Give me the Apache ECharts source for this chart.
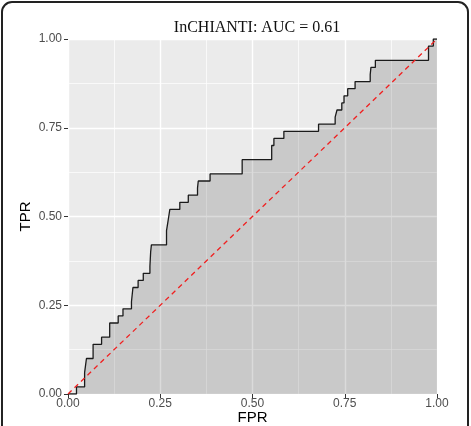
<!DOCTYPE html>
<html>
<head>
<meta charset="utf-8">
<script src="https://cdn.jsdelivr.net/npm/echarts@6/dist/echarts.min.js"></script>
<style>
  html, body { margin: 0; padding: 0; background: #fff; }
  #chart { width: 471px; height: 426px; }
</style>
</head>
<body>
<div id="chart"></div>
<script>
// ROC corners (step: horizontal first, then up)
const fpr = [0, 0.023, 0.045, 0.050, 0.068, 0.091, 0.113, 0.136, 0.149, 0.172, 0.176, 0.190,
  0.204, 0.222, 0.223, 0.224, 0.226, 0.267, 0.270, 0.273, 0.276, 0.303, 0.326, 0.351, 0.353,
  0.385, 0.472, 0.552, 0.558, 0.585, 0.679, 0.724, 0.729, 0.742, 0.748, 0.758, 0.778, 0.819,
  0.821, 0.833, 0.977, 0.990, 1.0]
const tpr = [0, 0.02, 0.06, 0.10, 0.14, 0.16, 0.20, 0.22, 0.24, 0.26, 0.30, 0.32,
  0.34, 0.36, 0.38, 0.40, 0.42, 0.46, 0.48, 0.50, 0.52, 0.54, 0.56, 0.58, 0.60,
  0.62, 0.66, 0.70, 0.72, 0.74, 0.76, 0.78, 0.80, 0.82, 0.84, 0.86, 0.88, 0.90,
  0.92, 0.94, 0.98, 1.0, 1.0]
const diagX = [0, 1]
const diagY = [0, 1]
const ticks = [0, 0.25, 0.5, 0.75, 1]

const chart = echarts.init(document.getElementById('chart'))

const axisCommon = {
  type: 'value',
  min: 0,
  max: 1,
  interval: 0.25,
  nameLocation: 'middle',
  nameMoveOverlap: false,
  nameTextStyle: { color: '#000', fontSize: 15, fontFamily: 'Liberation Sans' },
  axisLine: { show: false },
  axisTick: { show: true, length: 4, lineStyle: { color: '#333', width: 1 } },
  axisLabel: {
    color: '#4d4d4d',
    fontSize: 12,
    fontFamily: 'Liberation Sans',
    formatter: (v) => (ticks.includes(v) ? v.toFixed(2) : ''),
  },
  splitLine: { show: true, lineStyle: { color: '#fff', width: 1.4 } },
  minorTick: { show: false, splitNumber: 2 },
  minorSplitLine: { show: true, lineStyle: { color: '#fff', width: 0.7 } },
}

chart.setOption({
  animation: false,
  title: {
    text: 'InCHIANTI: AUC = 0.61',
    left: 252,
    textAlign: 'center',
    top: 15,
    textStyle: { fontFamily: 'Liberation Serif', fontSize: 16, fontWeight: 'normal', color: '#111' },
  },
  grid: {
    left: 68,
    right: 34,
    top: 39,
    bottom: 32,
    outerBoundsMode: 'none',
    show: true,
    backgroundColor: '#EBEBEB',
    borderWidth: 0,
  },
  xAxis: { ...axisCommon, name: 'FPR', nameGap: 16, axisLabel: { ...axisCommon.axisLabel, margin: 4 } },
  yAxis: { ...axisCommon, name: 'TPR', nameGap: 35, axisLabel: { ...axisCommon.axisLabel, margin: 6 } },
  graphic: [
    {
      type: 'rect',
      shape: { x: 2, y: 2, width: 466, height: 460, r: 10 },
      style: { fill: 'none', stroke: '#222', lineWidth: 2 },
      silent: true,
    },
  ],
  series: [
    {
      type: 'line',
      step: 'end',
      symbol: 'none',
      data: fpr.map((x, i) => [x, tpr[i]]),
      lineStyle: { color: '#1a1a1a', width: 1.3 },
      areaStyle: { color: 'rgba(0,0,0,0.14)', opacity: 1 },
      z: 2,
    },
    {
      type: 'line',
      symbol: 'none',
      data: diagX.map((x, i) => [x, diagY[i]]),
      lineStyle: { color: '#f02020', width: 1.3, type: [5, 4] },
      z: 3,
    },
  ],
})
</script>
</body>
</html>
